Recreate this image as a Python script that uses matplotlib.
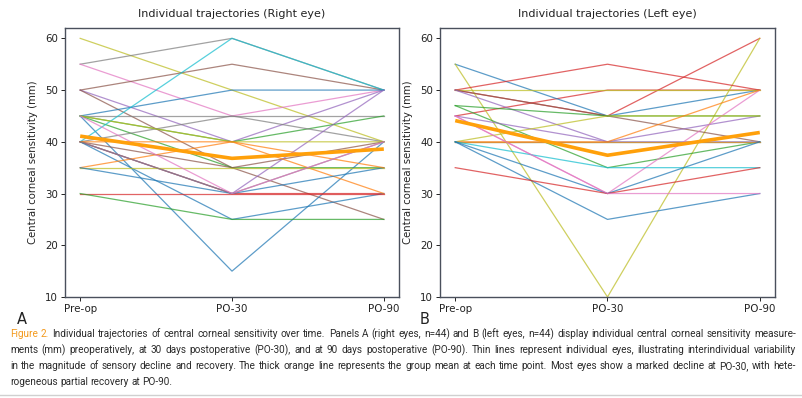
import matplotlib
matplotlib.use("Agg")
import matplotlib.pyplot as plt
from matplotlib.lines import Line2D

# ---------------- data ----------------
timepoints = ["Pre-op", "PO-30", "PO-90"]

right_pre  = [60, 55, 55, 50, 50, 50, 45, 45, 45, 45, 45, 40, 40, 40, 40, 40, 40, 35, 35, 35, 30, 30, 45, 40, 40, 45]
right_po30 = [50, 60, 45, 55, 40, 35, 50, 45, 40, 35, 15, 60, 45, 35, 30, 30, 25, 40, 35, 30, 30, 25, 40, 40, 30, 30]
right_po90 = [40, 50, 50, 50, 50, 25, 50, 45, 45, 35, 40, 50, 40, 40, 30, 50, 30, 30, 35, 35, 30, 25, 40, 35, 40, 40]
right_colors = ["C8", "C7", "C6", "C5", "C4", "C5", "C0", "C7", "C2", "C2", "C0", "C9", "C7", "C5", "C3", "C4",
                "C0", "C1", "C8", "C0", "C3", "C2", "C8", "C1", "C7", "C6"]
right_mean = [41.1, 36.8, 38.6]

left_pre  = [50, 45, 55, 55, 50, 50, 50, 50, 47, 47, 45, 45, 40, 40, 40, 40, 40, 40, 40, 35, 45]
left_po30 = [45, 50, 45, 10, 55, 50, 45, 40, 45, 35, 40, 30, 45, 40, 40, 40, 35, 30, 25, 30, 30]
left_po90 = [60, 50, 50, 60, 50, 50, 40, 45, 45, 40, 40, 50, 45, 40, 50, 40, 35, 40, 30, 35, 30]
left_colors = ["C3", "C3", "C0", "C8", "C3", "C8", "C5", "C4", "C2", "C2", "C4", "C6", "C8", "C9", "C1", "C1",
               "C9", "C0", "C0", "C3", "C6"]
left_mean = [44.1, 37.4, 41.8]

caption_lines = [
    "Individual trajectories of central corneal sensitivity over time. Panels A (right eyes, n=44) and B (left eyes, n=44) display individual central corneal sensitivity measure-",
    "ments (mm) preoperatively, at 30 days postoperative (PO-30), and at 90 days postoperative (PO-90). Thin lines represent individual eyes, illustrating interindividual variability",
    "in the magnitude of sensory decline and recovery. The thick orange line represents the group mean at each time point. Most eyes show a marked decline at PO-30, with hete-",
    "rogeneous partial recovery at PO-90.",
]

# ---------------- figure ----------------
W, H = 803, 398
fig = plt.figure(figsize=(W / 100, H / 100), dpi=100)
spine_col = "#4a505c"

def make_ax(x0, x1, y0, y1):
    return fig.add_axes([x0 / W, 1 - y1 / H, (x1 - x0) / W, (y1 - y0) / H])

axA = make_ax(65, 399, 28, 297)
axB = make_ax(440, 775, 28, 297)

panels = [
    (axA, right_pre, right_po30, right_po90, right_colors, right_mean, "Individual trajectories (Right eye)"),
    (axB, left_pre, left_po30, left_po90, left_colors, left_mean, "Individual trajectories (Left eye)"),
]
xs = list(range(len(timepoints)))
for ax, pre, p30, p90, cols, mean, title in panels:
    for a, b, c, col in zip(pre, p30, p90, cols):
        ax.plot(xs, [a, b, c], color=col, lw=0.9, alpha=0.72)
    ax.plot(xs, mean, color="#ffa00a", lw=2.6, solid_capstyle="butt")
    ax.set_xticks(xs)
    ax.set_xticklabels(timepoints)
    ax.set_xlim(-0.1, 2.1)
    ax.set_ylim(10, 62)
    ax.set_yticks([10, 20, 30, 40, 50, 60])
    ax.set_title(title, fontsize=8, color="#222222", pad=8)
    ax.set_ylabel("Central corneal sensitivity (mm)", fontsize=7.3, color="#222222", labelpad=5)
    ax.tick_params(labelsize=7.4, colors="#222222", length=3, width=0.7, pad=2)
    for s in ax.spines.values():
        s.set_color(spine_col)
        s.set_linewidth(1.0)

fig.text(22 / W, 1 - 319 / H, "A", fontsize=10.5, color="#222222", ha="center", va="center")
fig.text(425 / W, 1 - 319 / H, "B", fontsize=10.5, color="#222222", ha="center", va="center")

# ---------------- caption (justified) ----------------
cap_family = ["Roboto", "DejaVu Sans"]
cap_color = "#2b2b2b"
left_px, right_px = 10, 796
line_y = [334, 350, 366, 382]

fig.canvas.draw()
renderer = fig.canvas.get_renderer()

def width_px(t):
    return t.get_window_extent(renderer=renderer).width

full_lines = ["Figure 2. " + caption_lines[0]] + caption_lines[1:3]
size = 20.0
for ln in full_lines:
    probe = fig.text(0, 0, ln, family=cap_family, fontsize=10)
    w = width_px(probe)
    probe.remove()
    size = min(size, 10 * (right_px - left_px) / w * 0.985)
cap_font = dict(family=cap_family, fontsize=size)

for i, (line, yy) in enumerate(zip(caption_lines, line_y)):
    words = line.split(" ")
    if i == 0:
        words = ["Figure", "2."] + words
    texts = []
    for j, w in enumerate(words):
        col = "#f39a1e" if (i == 0 and j < 2) else cap_color
        t = fig.text(0, 1 - yy / H, w, color=col, va="center", ha="left", **cap_font)
        texts.append(t)
    widths = [width_px(t) for t in texts]
    total = sum(widths)
    justify = i < len(caption_lines) - 1
    if justify and len(words) > 1:
        gap = (right_px - left_px - total) / (len(words) - 1)
    else:
        sp = fig.text(0, 0, "a a", **cap_font)
        sp2 = fig.text(0, 0, "aa", **cap_font)
        gap = width_px(sp) - width_px(sp2)
        sp.remove(); sp2.remove()
    x = left_px
    for t, w in zip(texts, widths):
        t.set_x(x / W)
        x += w + gap

fig.add_artist(Line2D([0, 1], [1 - 395 / H, 1 - 395 / H], color="#d0d0d0", lw=1.0, transform=fig.transFigure))

fig.savefig("out.png", dpi=100)
